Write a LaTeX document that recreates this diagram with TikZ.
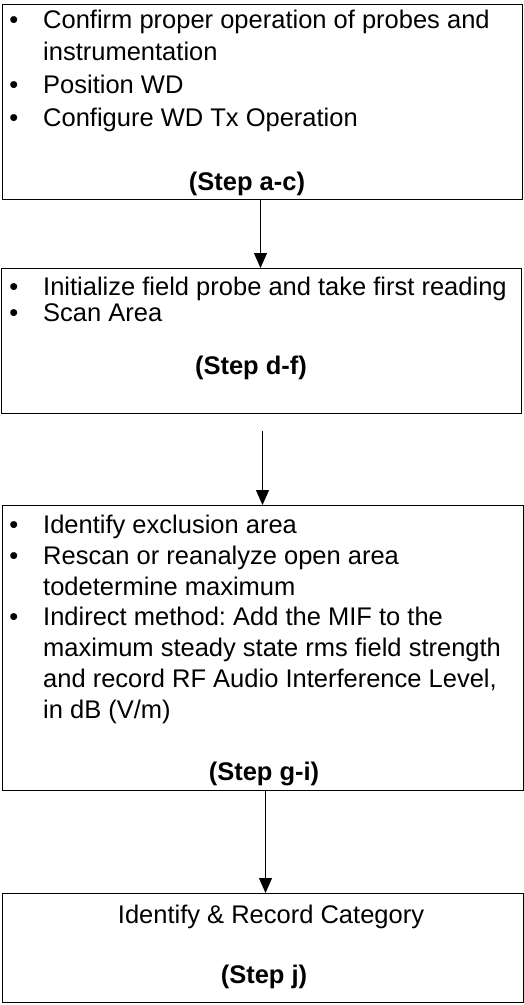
\documentclass[tikz,border=0pt]{standalone}
\usepackage{fontspec}
\setmainfont{Liberation Sans}
\usetikzlibrary{arrows.meta,positioning}
\newcommand{\bul}{\llap{\textbullet\hspace{25pt}}}
\frenchspacing

\begin{document}
\begin{tikzpicture}[x=1pt,y=-1pt,
  box/.style={draw,line width=1pt,anchor=north west,inner sep=0pt,minimum width=#1},
  list/.style={anchor=base west,align=left,inner sep=0pt},
  steplbl/.style={anchor=base,inner sep=0pt,font=\fontsize{25.5}{30}\selectfont\bfseries},
  arr/.style={-{Triangle[length=15pt,width=13pt]},line width=1pt}]
\useasboundingbox (0,0) rectangle (524,1005);
\node[box=520pt,minimum height=195pt] (conf) at (2,4) {};
\node[box=520pt,minimum height=145pt] (scan) at (1,268) {};
\node[box=521pt,minimum height=285pt] (excl) at (2,505) {};
\node[box=521pt,minimum height=109pt] (cat) at (2,893) {};
% lists are placed by the baseline of their last line
\node[list,font=\fontsize{25.5}{32.6}\selectfont] (conf-list) at (43,126)
  {\bul Confirm proper operation of probes and\\instrumentation\\\bul Position WD\\\bul Configure WD Tx Operation};
\node[steplbl] (conf-step) at (247,190) {(Step a-c)};
\node[list,font=\fontsize{25.5}{26}\selectfont] (scan-list) at (43,321)
  {\bul Initialize field probe and take first reading\\\bul Scan Area};
\node[steplbl] (scan-step) at (251,374) {(Step d-f)};
\node[list,font=\fontsize{25.5}{30.7}\selectfont] (excl-list) at (43,718)
  {\bul Identify exclusion area\\\bul Rescan or reanalyze open area\\todetermine maximum\\\bul Indirect method: Add the MIF to the\\maximum steady state rms field strength\\and record RF Audio Interference Level,\\in dB (V/m)};
\node[steplbl] (excl-step) at (264,780) {(Step g-i)};
\node[anchor=base,inner sep=0pt,font=\fontsize{25.5}{30}\selectfont] (cat-text) at (271,923) {Identify \& Record Category};
\node[steplbl] (cat-step) at (264,983) {(Step j)};
\coordinate (gap) at ([xshift=1pt,yshift=-17pt]scan.south);
\draw[arr] ([xshift=-2pt]conf.south)--([xshift=-1pt]scan.north);
\draw[arr] (gap)--([xshift=-0.5pt]excl.north);
\draw[arr] ([xshift=2.5pt]excl.south)--([xshift=2.5pt]cat.north);
\end{tikzpicture}
\end{document}
